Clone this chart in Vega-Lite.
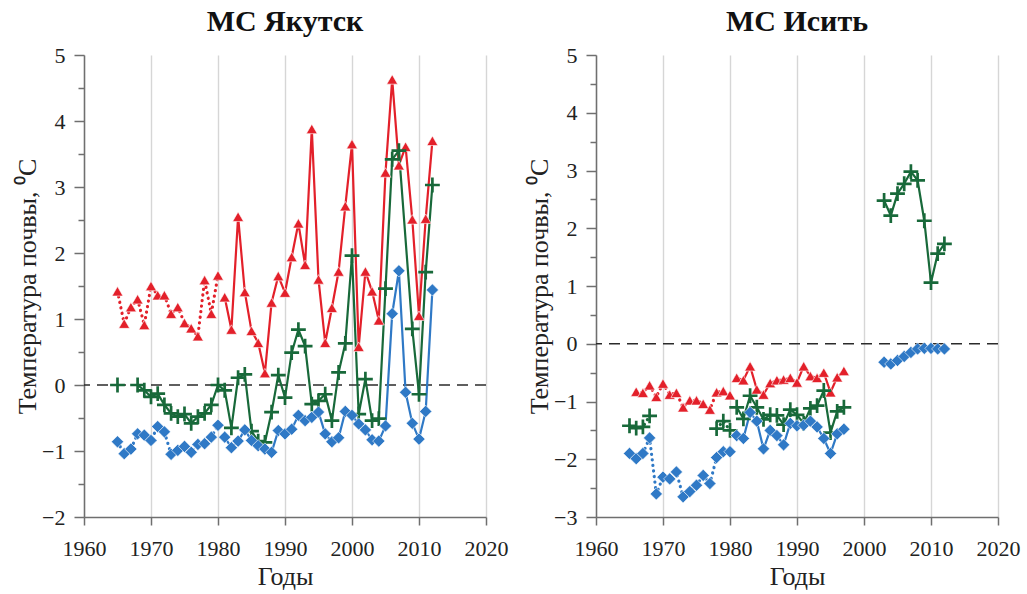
{
"$schema": "https://vega.github.io/schema/vega-lite/v6.json",
"background": "white",
"padding": {"left": 14, "top": 7, "right": 5, "bottom": 2},
"bounds": "flush",
"spacing": 110,
"config": {
 "font": "Liberation Serif",
 "view": {"stroke": null},
 "title": {"font": "Liberation Serif", "fontSize": 30, "fontWeight": "bold", "color": "#111", "frame": "group", "offset": 7, "anchor": "middle"},
 "axis": {"labelFont": "Liberation Serif", "labelFontSize": 22, "labelColor": "#222", "titleFont": "Liberation Serif", "titleFontSize": 26, "titleFontWeight": "normal", "titleColor": "#222", "gridColor": "#d6d6d6", "gridWidth": 1.4, "domainColor": "#6f6f6f", "domainWidth": 1.5, "tickColor": "#6f6f6f", "tickWidth": 1.5}
},
"datasets": {"d": [
{"station":"Якутск","series":"ряд 1","year":1965,"t":1.42,"period":"early","run":1},
{"station":"Якутск","series":"ряд 1","year":1966,"t":0.93,"period":"early","run":1},
{"station":"Якутск","series":"ряд 1","year":1967,"t":1.18,"period":"early","run":1},
{"station":"Якутск","series":"ряд 1","year":1968,"t":1.30,"period":"early","run":1},
{"station":"Якутск","series":"ряд 1","year":1969,"t":0.91,"period":"early","run":1},
{"station":"Якутск","series":"ряд 1","year":1970,"t":1.50,"period":"early","run":1},
{"station":"Якутск","series":"ряд 1","year":1971,"t":1.36,"period":"early","run":1},
{"station":"Якутск","series":"ряд 1","year":1972,"t":1.36,"period":"early","run":1},
{"station":"Якутск","series":"ряд 1","year":1973,"t":1.08,"period":"early","run":1},
{"station":"Якутск","series":"ряд 1","year":1974,"t":1.18,"period":"early","run":1},
{"station":"Якутск","series":"ряд 1","year":1975,"t":0.94,"period":"early","run":1},
{"station":"Якутск","series":"ряд 1","year":1976,"t":0.86,"period":"early","run":1},
{"station":"Якутск","series":"ряд 1","year":1977,"t":0.74,"period":"early","run":1},
{"station":"Якутск","series":"ряд 1","year":1978,"t":1.59,"period":"early","run":1},
{"station":"Якутск","series":"ряд 1","year":1979,"t":1.08,"period":"early","run":1},
{"station":"Якутск","series":"ряд 1","year":1980,"t":1.66,"period":"early","run":1},
{"station":"Якутск","series":"ряд 1","year":1981,"t":1.33,"period":"late","run":2},
{"station":"Якутск","series":"ряд 1","year":1982,"t":0.84,"period":"late","run":2},
{"station":"Якутск","series":"ряд 1","year":1983,"t":2.55,"period":"late","run":2},
{"station":"Якутск","series":"ряд 1","year":1984,"t":1.41,"period":"late","run":2},
{"station":"Якутск","series":"ряд 1","year":1985,"t":0.82,"period":"late","run":2},
{"station":"Якутск","series":"ряд 1","year":1986,"t":0.64,"period":"late","run":2},
{"station":"Якутск","series":"ряд 1","year":1987,"t":0.18,"period":"late","run":2},
{"station":"Якутск","series":"ряд 1","year":1988,"t":1.25,"period":"late","run":2},
{"station":"Якутск","series":"ряд 1","year":1989,"t":1.65,"period":"late","run":2},
{"station":"Якутск","series":"ряд 1","year":1990,"t":1.40,"period":"late","run":2},
{"station":"Якутск","series":"ряд 1","year":1991,"t":1.94,"period":"late","run":2},
{"station":"Якутск","series":"ряд 1","year":1992,"t":2.45,"period":"late","run":2},
{"station":"Якутск","series":"ряд 1","year":1993,"t":1.82,"period":"late","run":2},
{"station":"Якутск","series":"ряд 1","year":1994,"t":3.88,"period":"late","run":2},
{"station":"Якутск","series":"ряд 1","year":1995,"t":1.60,"period":"late","run":2},
{"station":"Якутск","series":"ряд 1","year":1996,"t":0.64,"period":"late","run":2},
{"station":"Якутск","series":"ряд 1","year":1997,"t":1.17,"period":"late","run":2},
{"station":"Якутск","series":"ряд 1","year":1998,"t":1.72,"period":"late","run":2},
{"station":"Якутск","series":"ряд 1","year":1999,"t":2.71,"period":"late","run":2},
{"station":"Якутск","series":"ряд 1","year":2000,"t":3.65,"period":"late","run":2},
{"station":"Якутск","series":"ряд 1","year":2001,"t":0.58,"period":"late","run":2},
{"station":"Якутск","series":"ряд 1","year":2002,"t":1.72,"period":"late","run":2},
{"station":"Якутск","series":"ряд 1","year":2003,"t":1.42,"period":"late","run":2},
{"station":"Якутск","series":"ряд 1","year":2004,"t":0.98,"period":"late","run":2},
{"station":"Якутск","series":"ряд 1","year":2005,"t":3.22,"period":"late","run":2},
{"station":"Якутск","series":"ряд 1","year":2006,"t":4.63,"period":"late","run":2},
{"station":"Якутск","series":"ряд 1","year":2007,"t":3.33,"period":"late","run":2},
{"station":"Якутск","series":"ряд 1","year":2008,"t":3.61,"period":"late","run":2},
{"station":"Якутск","series":"ряд 1","year":2009,"t":2.51,"period":"late","run":2},
{"station":"Якутск","series":"ряд 1","year":2010,"t":1.05,"period":"late","run":2},
{"station":"Якутск","series":"ряд 1","year":2011,"t":2.52,"period":"late","run":2},
{"station":"Якутск","series":"ряд 1","year":2012,"t":3.70,"period":"late","run":2},
{"station":"Якутск","series":"ряд 2","year":1965,"t":0.00,"period":"early","run":3},
{"station":"Якутск","series":"ряд 2","year":1968,"t":0.00,"period":"late","run":4},
{"station":"Якутск","series":"ряд 2","year":1969,"t":-0.08,"period":"late","run":4},
{"station":"Якутск","series":"ряд 2","year":1970,"t":-0.18,"period":"late","run":4},
{"station":"Якутск","series":"ряд 2","year":1971,"t":-0.13,"period":"late","run":4},
{"station":"Якутск","series":"ряд 2","year":1972,"t":-0.30,"period":"late","run":4},
{"station":"Якутск","series":"ряд 2","year":1973,"t":-0.43,"period":"late","run":4},
{"station":"Якутск","series":"ряд 2","year":1974,"t":-0.48,"period":"late","run":4},
{"station":"Якутск","series":"ряд 2","year":1975,"t":-0.44,"period":"late","run":4},
{"station":"Якутск","series":"ряд 2","year":1976,"t":-0.58,"period":"late","run":4},
{"station":"Якутск","series":"ряд 2","year":1977,"t":-0.48,"period":"late","run":4},
{"station":"Якутск","series":"ряд 2","year":1978,"t":-0.43,"period":"late","run":4},
{"station":"Якутск","series":"ряд 2","year":1979,"t":-0.30,"period":"late","run":4},
{"station":"Якутск","series":"ряд 2","year":1980,"t":0.00,"period":"late","run":4},
{"station":"Якутск","series":"ряд 2","year":1981,"t":-0.08,"period":"late","run":4},
{"station":"Якутск","series":"ряд 2","year":1982,"t":-0.65,"period":"late","run":4},
{"station":"Якутск","series":"ряд 2","year":1983,"t":0.11,"period":"late","run":4},
{"station":"Якутск","series":"ряд 2","year":1984,"t":0.16,"period":"late","run":4},
{"station":"Якутск","series":"ряд 2","year":1985,"t":-0.70,"period":"late","run":4},
{"station":"Якутск","series":"ряд 2","year":1986,"t":-0.85,"period":"late","run":4},
{"station":"Якутск","series":"ряд 2","year":1987,"t":-0.87,"period":"late","run":4},
{"station":"Якутск","series":"ряд 2","year":1988,"t":-0.41,"period":"late","run":4},
{"station":"Якутск","series":"ряд 2","year":1989,"t":0.15,"period":"late","run":4},
{"station":"Якутск","series":"ряд 2","year":1990,"t":-0.19,"period":"late","run":4},
{"station":"Якутск","series":"ряд 2","year":1991,"t":0.49,"period":"late","run":4},
{"station":"Якутск","series":"ряд 2","year":1992,"t":0.84,"period":"late","run":4},
{"station":"Якутск","series":"ряд 2","year":1993,"t":0.59,"period":"late","run":4},
{"station":"Якутск","series":"ряд 2","year":1994,"t":-0.29,"period":"late","run":4},
{"station":"Якутск","series":"ряд 2","year":1995,"t":-0.24,"period":"late","run":4},
{"station":"Якутск","series":"ряд 2","year":1996,"t":-0.14,"period":"late","run":4},
{"station":"Якутск","series":"ряд 2","year":1997,"t":-0.54,"period":"late","run":4},
{"station":"Якутск","series":"ряд 2","year":1998,"t":0.19,"period":"late","run":4},
{"station":"Якутск","series":"ряд 2","year":1999,"t":0.63,"period":"late","run":4},
{"station":"Якутск","series":"ряд 2","year":2000,"t":1.96,"period":"late","run":4},
{"station":"Якутск","series":"ряд 2","year":2001,"t":-0.44,"period":"late","run":4},
{"station":"Якутск","series":"ряд 2","year":2002,"t":0.09,"period":"late","run":4},
{"station":"Якутск","series":"ряд 2","year":2003,"t":-0.54,"period":"late","run":4},
{"station":"Якутск","series":"ряд 2","year":2004,"t":-0.51,"period":"late","run":4},
{"station":"Якутск","series":"ряд 2","year":2005,"t":1.46,"period":"late","run":4},
{"station":"Якутск","series":"ряд 2","year":2006,"t":3.42,"period":"late","run":4},
{"station":"Якутск","series":"ряд 2","year":2007,"t":3.55,"period":"late","run":4},
{"station":"Якутск","series":"ряд 2","year":2009,"t":0.85,"period":"late","run":4},
{"station":"Якутск","series":"ряд 2","year":2010,"t":-0.14,"period":"late","run":4},
{"station":"Якутск","series":"ряд 2","year":2011,"t":1.71,"period":"late","run":4},
{"station":"Якутск","series":"ряд 2","year":2012,"t":3.03,"period":"late","run":4},
{"station":"Якутск","series":"ряд 3","year":1965,"t":-0.86,"period":"early","run":5},
{"station":"Якутск","series":"ряд 3","year":1966,"t":-1.04,"period":"early","run":5},
{"station":"Якутск","series":"ряд 3","year":1967,"t":-0.97,"period":"early","run":5},
{"station":"Якутск","series":"ряд 3","year":1968,"t":-0.74,"period":"early","run":5},
{"station":"Якутск","series":"ряд 3","year":1969,"t":-0.76,"period":"early","run":5},
{"station":"Якутск","series":"ряд 3","year":1970,"t":-0.84,"period":"early","run":5},
{"station":"Якутск","series":"ряд 3","year":1971,"t":-0.63,"period":"early","run":5},
{"station":"Якутск","series":"ряд 3","year":1972,"t":-0.71,"period":"early","run":5},
{"station":"Якутск","series":"ряд 3","year":1973,"t":-1.05,"period":"early","run":5},
{"station":"Якутск","series":"ряд 3","year":1974,"t":-0.99,"period":"early","run":5},
{"station":"Якутск","series":"ряд 3","year":1975,"t":-0.93,"period":"early","run":5},
{"station":"Якутск","series":"ряд 3","year":1976,"t":-1.02,"period":"early","run":5},
{"station":"Якутск","series":"ряд 3","year":1977,"t":-0.90,"period":"early","run":5},
{"station":"Якутск","series":"ряд 3","year":1978,"t":-0.89,"period":"early","run":5},
{"station":"Якутск","series":"ряд 3","year":1979,"t":-0.79,"period":"early","run":5},
{"station":"Якутск","series":"ряд 3","year":1980,"t":-0.61,"period":"early","run":5},
{"station":"Якутск","series":"ряд 3","year":1981,"t":-0.79,"period":"late","run":6},
{"station":"Якутск","series":"ряд 3","year":1982,"t":-0.95,"period":"late","run":6},
{"station":"Якутск","series":"ряд 3","year":1983,"t":-0.85,"period":"late","run":6},
{"station":"Якутск","series":"ряд 3","year":1984,"t":-0.68,"period":"late","run":6},
{"station":"Якутск","series":"ряд 3","year":1985,"t":-0.84,"period":"late","run":6},
{"station":"Якутск","series":"ряд 3","year":1986,"t":-0.92,"period":"late","run":6},
{"station":"Якутск","series":"ряд 3","year":1987,"t":-0.97,"period":"late","run":6},
{"station":"Якутск","series":"ряд 3","year":1988,"t":-1.02,"period":"late","run":6},
{"station":"Якутск","series":"ряд 3","year":1989,"t":-0.69,"period":"late","run":6},
{"station":"Якутск","series":"ряд 3","year":1990,"t":-0.74,"period":"late","run":6},
{"station":"Якутск","series":"ряд 3","year":1991,"t":-0.67,"period":"late","run":6},
{"station":"Якутск","series":"ряд 3","year":1992,"t":-0.46,"period":"late","run":6},
{"station":"Якутск","series":"ряд 3","year":1993,"t":-0.54,"period":"late","run":6},
{"station":"Якутск","series":"ряд 3","year":1994,"t":-0.49,"period":"late","run":6},
{"station":"Якутск","series":"ряд 3","year":1995,"t":-0.41,"period":"late","run":6},
{"station":"Якутск","series":"ряд 3","year":1996,"t":-0.74,"period":"late","run":6},
{"station":"Якутск","series":"ряд 3","year":1997,"t":-0.86,"period":"late","run":6},
{"station":"Якутск","series":"ряд 3","year":1998,"t":-0.80,"period":"late","run":6},
{"station":"Якутск","series":"ряд 3","year":1999,"t":-0.40,"period":"late","run":6},
{"station":"Якутск","series":"ряд 3","year":2000,"t":-0.46,"period":"late","run":6},
{"station":"Якутск","series":"ряд 3","year":2001,"t":-0.59,"period":"late","run":6},
{"station":"Якутск","series":"ряд 3","year":2002,"t":-0.68,"period":"late","run":6},
{"station":"Якутск","series":"ряд 3","year":2003,"t":-0.83,"period":"late","run":6},
{"station":"Якутск","series":"ряд 3","year":2004,"t":-0.85,"period":"late","run":6},
{"station":"Якутск","series":"ряд 3","year":2005,"t":-0.62,"period":"late","run":6},
{"station":"Якутск","series":"ряд 3","year":2006,"t":1.08,"period":"late","run":6},
{"station":"Якутск","series":"ряд 3","year":2007,"t":1.73,"period":"late","run":6},
{"station":"Якутск","series":"ряд 3","year":2008,"t":-0.11,"period":"late","run":6},
{"station":"Якутск","series":"ряд 3","year":2009,"t":-0.58,"period":"late","run":6},
{"station":"Якутск","series":"ряд 3","year":2010,"t":-0.82,"period":"late","run":6},
{"station":"Якутск","series":"ряд 3","year":2011,"t":-0.40,"period":"late","run":6},
{"station":"Якутск","series":"ряд 3","year":2012,"t":1.44,"period":"late","run":6},
{"station":"Исить","series":"ряд 1","year":1966,"t":-0.83,"period":"early","run":7},
{"station":"Исить","series":"ряд 1","year":1967,"t":-0.85,"period":"early","run":7},
{"station":"Исить","series":"ряд 1","year":1968,"t":-0.72,"period":"early","run":7},
{"station":"Исить","series":"ряд 1","year":1969,"t":-0.92,"period":"early","run":7},
{"station":"Исить","series":"ряд 1","year":1970,"t":-0.69,"period":"early","run":7},
{"station":"Исить","series":"ряд 1","year":1971,"t":-0.88,"period":"early","run":7},
{"station":"Исить","series":"ряд 1","year":1972,"t":-0.85,"period":"early","run":7},
{"station":"Исить","series":"ряд 1","year":1973,"t":-1.10,"period":"early","run":7},
{"station":"Исить","series":"ряд 1","year":1974,"t":-0.98,"period":"early","run":7},
{"station":"Исить","series":"ряд 1","year":1975,"t":-0.98,"period":"early","run":7},
{"station":"Исить","series":"ряд 1","year":1976,"t":-1.04,"period":"early","run":7},
{"station":"Исить","series":"ряд 1","year":1977,"t":-1.14,"period":"early","run":7},
{"station":"Исить","series":"ряд 1","year":1978,"t":-0.84,"period":"early","run":7},
{"station":"Исить","series":"ряд 1","year":1979,"t":-0.82,"period":"early","run":7},
{"station":"Исить","series":"ряд 1","year":1980,"t":-0.89,"period":"early","run":7},
{"station":"Исить","series":"ряд 1","year":1981,"t":-0.59,"period":"late","run":8},
{"station":"Исить","series":"ряд 1","year":1982,"t":-0.63,"period":"late","run":8},
{"station":"Исить","series":"ряд 1","year":1983,"t":-0.39,"period":"late","run":8},
{"station":"Исить","series":"ряд 1","year":1984,"t":-0.79,"period":"late","run":8},
{"station":"Исить","series":"ряд 1","year":1985,"t":-0.88,"period":"late","run":8},
{"station":"Исить","series":"ряд 1","year":1986,"t":-0.68,"period":"late","run":8},
{"station":"Исить","series":"ряд 1","year":1987,"t":-0.63,"period":"late","run":8},
{"station":"Исить","series":"ряд 1","year":1988,"t":-0.62,"period":"late","run":8},
{"station":"Исить","series":"ряд 1","year":1989,"t":-0.59,"period":"late","run":8},
{"station":"Исить","series":"ряд 1","year":1990,"t":-0.67,"period":"late","run":8},
{"station":"Исить","series":"ряд 1","year":1991,"t":-0.39,"period":"late","run":8},
{"station":"Исить","series":"ряд 1","year":1992,"t":-0.56,"period":"late","run":8},
{"station":"Исить","series":"ряд 1","year":1993,"t":-0.59,"period":"late","run":8},
{"station":"Исить","series":"ряд 1","year":1994,"t":-0.50,"period":"late","run":8},
{"station":"Исить","series":"ряд 1","year":1995,"t":-0.84,"period":"late","run":8},
{"station":"Исить","series":"ряд 1","year":1996,"t":-0.58,"period":"late","run":8},
{"station":"Исить","series":"ряд 1","year":1997,"t":-0.47,"period":"late","run":8},
{"station":"Исить","series":"ряд 2","year":1965,"t":-1.42,"period":"early","run":9},
{"station":"Исить","series":"ряд 2","year":1966,"t":-1.46,"period":"early","run":9},
{"station":"Исить","series":"ряд 2","year":1967,"t":-1.44,"period":"early","run":9},
{"station":"Исить","series":"ряд 2","year":1968,"t":-1.25,"period":"early","run":9},
{"station":"Исить","series":"ряд 2","year":1978,"t":-1.47,"period":"early","run":10},
{"station":"Исить","series":"ряд 2","year":1979,"t":-1.34,"period":"early","run":10},
{"station":"Исить","series":"ряд 2","year":1980,"t":-1.50,"period":"early","run":10},
{"station":"Исить","series":"ряд 2","year":1981,"t":-1.10,"period":"late","run":11},
{"station":"Исить","series":"ряд 2","year":1982,"t":-1.30,"period":"late","run":11},
{"station":"Исить","series":"ряд 2","year":1983,"t":-0.90,"period":"late","run":11},
{"station":"Исить","series":"ряд 2","year":1984,"t":-1.10,"period":"late","run":11},
{"station":"Исить","series":"ряд 2","year":1985,"t":-1.31,"period":"late","run":11},
{"station":"Исить","series":"ряд 2","year":1986,"t":-1.23,"period":"late","run":11},
{"station":"Исить","series":"ряд 2","year":1987,"t":-1.24,"period":"late","run":11},
{"station":"Исить","series":"ряд 2","year":1988,"t":-1.40,"period":"late","run":11},
{"station":"Исить","series":"ряд 2","year":1989,"t":-1.14,"period":"late","run":11},
{"station":"Исить","series":"ряд 2","year":1990,"t":-1.23,"period":"late","run":11},
{"station":"Исить","series":"ряд 2","year":1991,"t":-1.38,"period":"late","run":11},
{"station":"Исить","series":"ряд 2","year":1992,"t":-1.12,"period":"late","run":11},
{"station":"Исить","series":"ряд 2","year":1993,"t":-1.07,"period":"late","run":11},
{"station":"Исить","series":"ряд 2","year":1994,"t":-0.81,"period":"late","run":11},
{"station":"Исить","series":"ряд 2","year":1995,"t":-1.54,"period":"late","run":11},
{"station":"Исить","series":"ряд 2","year":1996,"t":-1.17,"period":"late","run":11},
{"station":"Исить","series":"ряд 2","year":1997,"t":-1.10,"period":"late","run":11},
{"station":"Исить","series":"ряд 2","year":2003,"t":2.48,"period":"late","run":12},
{"station":"Исить","series":"ряд 2","year":2004,"t":2.22,"period":"late","run":12},
{"station":"Исить","series":"ряд 2","year":2005,"t":2.60,"period":"late","run":12},
{"station":"Исить","series":"ряд 2","year":2006,"t":2.77,"period":"late","run":12},
{"station":"Исить","series":"ряд 2","year":2007,"t":2.98,"period":"late","run":12},
{"station":"Исить","series":"ряд 2","year":2008,"t":2.83,"period":"late","run":12},
{"station":"Исить","series":"ряд 2","year":2009,"t":2.13,"period":"late","run":12},
{"station":"Исить","series":"ряд 2","year":2010,"t":1.06,"period":"late","run":12},
{"station":"Исить","series":"ряд 2","year":2011,"t":1.56,"period":"late","run":12},
{"station":"Исить","series":"ряд 2","year":2012,"t":1.73,"period":"late","run":12},
{"station":"Исить","series":"ряд 3","year":1965,"t":-1.90,"period":"early","run":13},
{"station":"Исить","series":"ряд 3","year":1966,"t":-1.99,"period":"early","run":13},
{"station":"Исить","series":"ряд 3","year":1967,"t":-1.90,"period":"early","run":13},
{"station":"Исить","series":"ряд 3","year":1968,"t":-1.63,"period":"early","run":13},
{"station":"Исить","series":"ряд 3","year":1969,"t":-2.60,"period":"early","run":13},
{"station":"Исить","series":"ряд 3","year":1970,"t":-2.31,"period":"early","run":13},
{"station":"Исить","series":"ряд 3","year":1971,"t":-2.34,"period":"early","run":13},
{"station":"Исить","series":"ряд 3","year":1972,"t":-2.22,"period":"early","run":13},
{"station":"Исить","series":"ряд 3","year":1973,"t":-2.65,"period":"early","run":13},
{"station":"Исить","series":"ряд 3","year":1974,"t":-2.56,"period":"early","run":13},
{"station":"Исить","series":"ряд 3","year":1975,"t":-2.45,"period":"early","run":13},
{"station":"Исить","series":"ряд 3","year":1976,"t":-2.28,"period":"early","run":13},
{"station":"Исить","series":"ряд 3","year":1977,"t":-2.42,"period":"early","run":13},
{"station":"Исить","series":"ряд 3","year":1978,"t":-1.97,"period":"early","run":13},
{"station":"Исить","series":"ряд 3","year":1979,"t":-1.87,"period":"early","run":13},
{"station":"Исить","series":"ряд 3","year":1980,"t":-1.87,"period":"early","run":13},
{"station":"Исить","series":"ряд 3","year":1981,"t":-1.59,"period":"late","run":14},
{"station":"Исить","series":"ряд 3","year":1982,"t":-1.64,"period":"late","run":14},
{"station":"Исить","series":"ряд 3","year":1983,"t":-1.19,"period":"late","run":14},
{"station":"Исить","series":"ряд 3","year":1984,"t":-1.34,"period":"late","run":14},
{"station":"Исить","series":"ряд 3","year":1985,"t":-1.82,"period":"late","run":14},
{"station":"Исить","series":"ряд 3","year":1986,"t":-1.50,"period":"late","run":14},
{"station":"Исить","series":"ряд 3","year":1987,"t":-1.59,"period":"late","run":14},
{"station":"Исить","series":"ряд 3","year":1988,"t":-1.75,"period":"late","run":14},
{"station":"Исить","series":"ряд 3","year":1989,"t":-1.38,"period":"late","run":14},
{"station":"Исить","series":"ряд 3","year":1990,"t":-1.42,"period":"late","run":14},
{"station":"Исить","series":"ряд 3","year":1991,"t":-1.41,"period":"late","run":14},
{"station":"Исить","series":"ряд 3","year":1992,"t":-1.34,"period":"late","run":14},
{"station":"Исить","series":"ряд 3","year":1993,"t":-1.44,"period":"late","run":14},
{"station":"Исить","series":"ряд 3","year":1994,"t":-1.64,"period":"late","run":14},
{"station":"Исить","series":"ряд 3","year":1995,"t":-1.90,"period":"late","run":14},
{"station":"Исить","series":"ряд 3","year":1996,"t":-1.56,"period":"late","run":14},
{"station":"Исить","series":"ряд 3","year":1997,"t":-1.48,"period":"late","run":14},
{"station":"Исить","series":"ряд 3","year":2003,"t":-0.32,"period":"late","run":15},
{"station":"Исить","series":"ряд 3","year":2004,"t":-0.35,"period":"late","run":15},
{"station":"Исить","series":"ряд 3","year":2005,"t":-0.29,"period":"late","run":15},
{"station":"Исить","series":"ряд 3","year":2006,"t":-0.22,"period":"late","run":15},
{"station":"Исить","series":"ряд 3","year":2007,"t":-0.15,"period":"late","run":15},
{"station":"Исить","series":"ряд 3","year":2008,"t":-0.09,"period":"late","run":15},
{"station":"Исить","series":"ряд 3","year":2009,"t":-0.08,"period":"late","run":15},
{"station":"Исить","series":"ряд 3","year":2010,"t":-0.08,"period":"late","run":15},
{"station":"Исить","series":"ряд 3","year":2011,"t":-0.09,"period":"late","run":15},
{"station":"Исить","series":"ряд 3","year":2012,"t":-0.09,"period":"late","run":15}
]},
"data": {"name": "d"},
"hconcat": [
{
 "title": "МС Якутск",
 "width": 402, "height": 462,
 "resolve": {"axis": {"y": "independent"}},
 "layer": [
  {"data": {"values": [{}]},
   "mark": {"type": "rule", "color": "#2b2b2b", "strokeWidth": 1.6, "strokeDash": [11, 7]},
   "encoding": {"y": {"datum": 0, "type": "quantitative", "scale": {"domain": [-2, 5], "nice": false, "zero": false},
     "axis": {"orient": "left", "values": [-1.5, -0.5, 0.5, 1.5, 2.5, 3.5, 4.5], "labels": false, "grid": false, "domain": false, "tickSize": 6, "title": null}}}},
  {"transform": [{"filter": "datum.station === 'Якутск'"}],
   "encoding": {
    "x": {"field": "year", "type": "quantitative", "scale": {"domain": [1960, 2020], "nice": false, "zero": false},
      "axis": {"title": "Годы", "values": [1960, 1970, 1980, 1990, 2000, 2010, 2020], "format": "d", "tickSize": 8, "labelPadding": 13, "titlePadding": 4, "labelFlush": false, "labelFont": "Liberation Serif", "titleFont": "Liberation Serif"}},
    "y": {"field": "t", "type": "quantitative", "scale": {"domain": [-2, 5], "nice": false, "zero": false},
      "axis": {"orient": "left", "title": "Температура почвы, ⁰C", "values": [-2, -1, 0, 1, 2, 3, 4, 5], "format": "d", "tickSize": 10, "labelPadding": 9, "titlePadding": 1, "labelFont": "Liberation Serif", "titleFont": "Liberation Serif"}}
   },
   "layer": [
    {"transform": [{"filter": "datum.period === 'early'"}],
     "mark": {"type": "line", "strokeWidth": 3.2, "strokeDash": [0.1, 5.5], "strokeCap": "round"},
     "encoding": {"color": {"field": "series", "type": "nominal", "scale": {"domain": ["ряд 1", "ряд 2", "ряд 3"], "range": ["#e3202a", "#18693a", "#2f79c6"]}, "legend": null}, "detail": {"field": "run", "type": "nominal"}}},
    {"transform": [{"filter": "datum.period === 'late'"}],
     "mark": {"type": "line", "strokeWidth": 2.2},
     "encoding": {"color": {"field": "series", "type": "nominal", "scale": {"domain": ["ряд 1", "ряд 2", "ряд 3"], "range": ["#e3202a", "#18693a", "#2f79c6"]}, "legend": null}, "detail": {"field": "run", "type": "nominal"}}},
    {"transform": [{"filter": "datum.series === 'ряд 1'"}],
     "mark": {"type": "point", "shape": "triangle-up", "filled": true, "size": 120, "opacity": 1, "color": "#e3202a", "stroke": "white", "strokeWidth": 0.6}},
    {"transform": [{"filter": "datum.series === 'ряд 2'"}],
     "mark": {"type": "point", "shape": "M-1,0L1,0M0,-1L0,1", "filled": false, "size": 220, "opacity": 1, "color": "#18693a", "strokeWidth": 2.7}},
    {"transform": [{"filter": "datum.series === 'ряд 3'"}],
     "mark": {"type": "point", "shape": "diamond", "filled": true, "size": 150, "opacity": 1, "color": "#2f79c6", "stroke": "white", "strokeWidth": 0.6}}
   ]}
 ]
},
{
 "title": "МС Исить",
 "width": 402, "height": 462,
 "resolve": {"axis": {"y": "independent"}},
 "layer": [
  {"data": {"values": [{}]},
   "mark": {"type": "rule", "color": "#2b2b2b", "strokeWidth": 1.6, "strokeDash": [11, 7]},
   "encoding": {"y": {"datum": 0, "type": "quantitative", "scale": {"domain": [-3, 5], "nice": false, "zero": false},
     "axis": {"orient": "left", "values": [-2.5, -1.5, -0.5, 0.5, 1.5, 2.5, 3.5, 4.5], "labels": false, "grid": false, "domain": false, "tickSize": 6, "title": null}}}},
  {"transform": [{"filter": "datum.station === 'Исить'"}],
   "encoding": {
    "x": {"field": "year", "type": "quantitative", "scale": {"domain": [1960, 2020], "nice": false, "zero": false},
      "axis": {"title": "Годы", "values": [1960, 1970, 1980, 1990, 2000, 2010, 2020], "format": "d", "tickSize": 8, "labelPadding": 13, "titlePadding": 4, "labelFlush": false, "labelFont": "Liberation Serif", "titleFont": "Liberation Serif"}},
    "y": {"field": "t", "type": "quantitative", "scale": {"domain": [-3, 5], "nice": false, "zero": false},
      "axis": {"orient": "left", "title": "Температура почвы, ⁰C", "values": [-3, -2, -1, 0, 1, 2, 3, 4, 5], "format": "d", "tickSize": 10, "labelPadding": 9, "titlePadding": 1, "labelFont": "Liberation Serif", "titleFont": "Liberation Serif"}}
   },
   "layer": [
    {"transform": [{"filter": "datum.period === 'early'"}],
     "mark": {"type": "line", "strokeWidth": 3.2, "strokeDash": [0.1, 5.5], "strokeCap": "round"},
     "encoding": {"color": {"field": "series", "type": "nominal", "scale": {"domain": ["ряд 1", "ряд 2", "ряд 3"], "range": ["#e3202a", "#18693a", "#2f79c6"]}, "legend": null}, "detail": {"field": "run", "type": "nominal"}}},
    {"transform": [{"filter": "datum.period === 'late'"}],
     "mark": {"type": "line", "strokeWidth": 2.2},
     "encoding": {"color": {"field": "series", "type": "nominal", "scale": {"domain": ["ряд 1", "ряд 2", "ряд 3"], "range": ["#e3202a", "#18693a", "#2f79c6"]}, "legend": null}, "detail": {"field": "run", "type": "nominal"}}},
    {"transform": [{"filter": "datum.series === 'ряд 1'"}],
     "mark": {"type": "point", "shape": "triangle-up", "filled": true, "size": 120, "opacity": 1, "color": "#e3202a", "stroke": "white", "strokeWidth": 0.6}},
    {"transform": [{"filter": "datum.series === 'ряд 2'"}],
     "mark": {"type": "point", "shape": "M-1,0L1,0M0,-1L0,1", "filled": false, "size": 220, "opacity": 1, "color": "#18693a", "strokeWidth": 2.7}},
    {"transform": [{"filter": "datum.series === 'ряд 3'"}],
     "mark": {"type": "point", "shape": "diamond", "filled": true, "size": 150, "opacity": 1, "color": "#2f79c6", "stroke": "white", "strokeWidth": 0.6}}
   ]}
 ]
}
]
}
